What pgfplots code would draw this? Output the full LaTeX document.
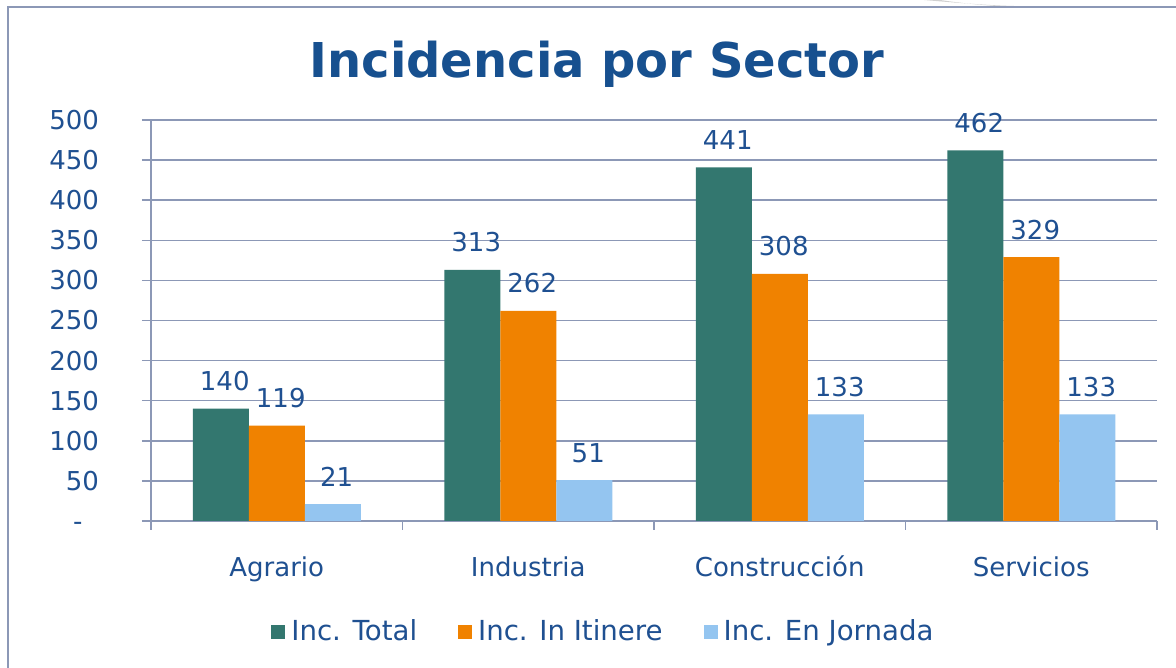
\documentclass[border=0pt]{standalone}
\usepackage{pgfplots}
\pgfplotsset{compat=1.18}
\usepackage{fontspec}
\setmainfont{DejaVu Sans}
\definecolor{cteal}{RGB}{51,119,111}
\definecolor{corange}{RGB}{240,130,0}
\definecolor{clblue}{RGB}{148,197,240}
\definecolor{ctext}{RGB}{31,80,145}
\definecolor{ctitle}{RGB}{23,80,143}
\definecolor{cgrid}{RGB}{140,152,182}
\newcommand{\lblfont}{\fontsize{13}{15}\selectfont}
\begin{document}
\begin{tikzpicture}[x=1pt,y=1pt]
\useasboundingbox (0,0) rectangle (588,334);
\fill[white] (0,0) rectangle (588,334);
\fill[black!18] (462,334) .. controls (485,332) and (500,331) .. (512,330.9) -- (500,330.9) .. controls (490,331.5) and (480,332.5) .. (470,334) -- cycle;
\draw[cgrid, line width=0.75pt] (4,-10) -- (4,330.5) -- (600,330.5);
\node[font=\fontsize{24}{28}\selectfont\bfseries, text=ctitle, anchor=base] at (298.5,295) {Incidencia por Sector};
\begin{axis}[
  at={(75.5pt,73.5pt)}, anchor=south west,
  scale only axis, width=503pt, height=200.5pt,
  xmin=-0.5, xmax=3.5, ymin=0, ymax=500,
  ybar=0pt, bar width=28pt,
  /pgf/number format/assume math mode=true,
  axis x line*=bottom, axis y line*=left,
  axis line style={cgrid, line width=0.75pt},
  ymajorgrids, grid style={cgrid, line width=0.75pt},
  tick align=outside, major tick length=4.5pt,
  tick style={cgrid, line width=0.75pt},
  ytick={0,50,100,150,200,250,300,350,400,450,500},
  yticklabels={-\phantom{0},50,100,150,200,250,300,350,400,450,500},
  yticklabel style={font=\lblfont, text=ctext, xshift=-18pt},
  xtick={-0.5,0.5,1.5,2.5,3.5}, xticklabels={},
  extra x ticks={0,1,2,3},
  extra x tick labels={Agrario,Industria,Construcción,Servicios},
  extra x tick style={major tick length=0pt, grid=none, xticklabel style={font=\lblfont, text=ctext, anchor=base, yshift=-27.5pt}},
  nodes near coords,
  every node near coord/.append style={font=\lblfont, text=ctext, anchor=base, yshift=9pt, xshift=2pt},
  legend columns=3,
  legend style={draw=none, fill=none, font=\fontsize{13.8}{15}\selectfont, text=ctext, at={(0.1193,-0.2768)}, anchor=west, inner sep=0pt,
    /tikz/every even column/.append style={column sep=18.5pt}},
  legend image code/.code={\fill[#1] (0pt,-3.5pt) rectangle (7pt,3.5pt); \path (8pt,0pt);},
]
\addplot[fill=cteal, draw=none] coordinates {(0,140) (1,313) (2,441) (3,462)};
\addplot[fill=corange, draw=none] coordinates {(0,119) (1,262) (2,308) (3,329)};
\addplot[fill=clblue, draw=none] coordinates {(0,21) (1,51) (2,133) (3,133)};
\legend{Inc. Total, Inc. In Itinere, Inc. En Jornada}
\end{axis}
\end{tikzpicture}
\end{document}
